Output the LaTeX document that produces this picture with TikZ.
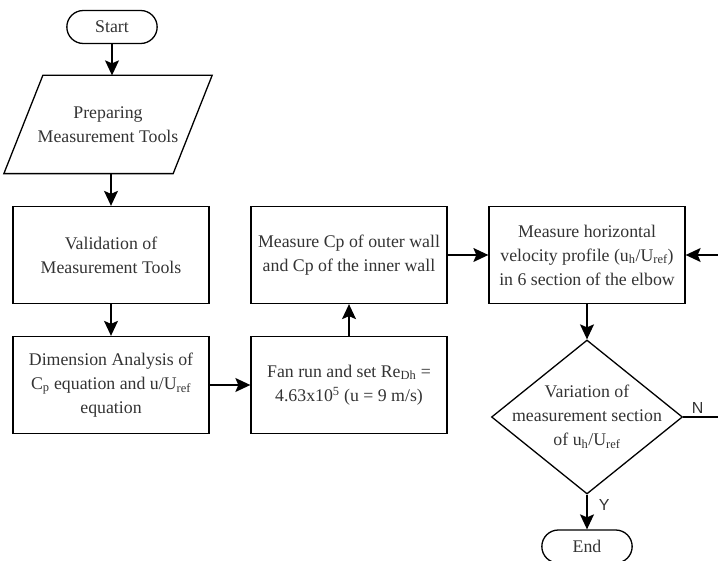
\documentclass[tikz,border=0pt]{standalone}
\usepackage{fontspec}
\setmainfont{Liberation Serif}
\newfontfamily\ynfont{Liberation Sans}
\usetikzlibrary{shapes.geometric,shapes.misc,arrows.meta}

\begin{document}
\begin{tikzpicture}[x=1pt,y=-1pt,>={Stealth[length=15pt,width=14pt,inset=3pt]},line width=1.3pt,
  every node/.style={font=\fontsize{17.8}{24}\selectfont, text=black!80},
  box/.style={draw=black, rectangle, align=center, minimum width=196pt, minimum height=97pt, inner sep=2pt},
  term/.style={draw=black, rounded rectangle, minimum width=97pt, minimum height=33pt},
  lbl/.style={font=\ynfont\fontsize{16}{18}\selectfont}]
\useasboundingbox (0,0) rectangle (718,561);

\node(Start)[term] at (112,27) {Start};
\node(Prep)[rectangle, minimum width=168pt, minimum height=97pt, inner sep=0pt, align=center] at (108,124.5) {Preparing\\Measurement Tools};
\draw ([xshift=19.5pt]Prep.north west) -- ([xshift=19.5pt]Prep.north east)
  -- ([xshift=-19.5pt]Prep.south east) -- ([xshift=-19.5pt]Prep.south west) -- cycle;
\node(Valid)[box] at (111,255) {Validation of\\Measurement Tools};
\node(Dim)[box] at (111,385) {Dimension Analysis of\\C\textsubscript{p} equation and u/U\textsubscript{ref}\\equation};
\node(Fan)[box] at (349,385) {Fan run and set Re\textsubscript{Dh} =\\4.63x10\textsuperscript{5} (u = 9 m/s)};
\node(Cp)[box] at (349,255) {Measure Cp of outer wall\\and Cp of the inner wall};
\node(Vel)[box] at (587,255) {Measure horizontal\\velocity profile (u\textsubscript{h}/U\textsubscript{ref})\\in 6 section of the elbow};
\node(Var)[draw=black, diamond, minimum width=191pt, minimum height=154pt, inner sep=0pt] at (587,417) {};
\node(VarText)[align=center] at (Var.center) {Variation of\\measurement section\\of u\textsubscript{h}/U\textsubscript{ref}};
\node(End)[term] at (587,546.5) {End};
\coordinate(Back) at (719.5,417);

\draw (Start.south) edge[->] (Prep.north -| Start.south);
\draw (Prep.south -| Valid.north) edge[->] (Valid.north);
\draw (Valid.south) edge[->] (Dim.north);
\draw (Dim.east) edge[->] (Fan.west);
\draw (Fan.north) edge[->] (Cp.south);
\draw (Cp.east) edge[->] (Vel.west);
\draw (Vel.south) edge[->] (Var.north);
\draw (Var.south) edge[->] node[lbl, right=8pt, pos=0.3] {Y} (End.north);
\draw[->] (Var.east) -- node[lbl, above, pos=0.4] {N} (Back) |- (Vel.east);
\end{tikzpicture}
\end{document}
